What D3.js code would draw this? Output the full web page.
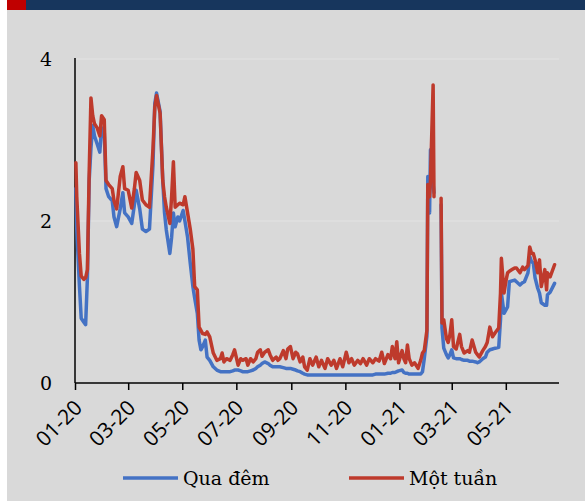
<!DOCTYPE html>
<html><head><meta charset="utf-8">
<script src="https://cdn.jsdelivr.net/npm/d3@7"></script>
<style>
html,body{margin:0;padding:0;background:#fff;}
svg{display:block;}
</style></head>
<body>
<svg id="chart" width="585" height="501"></svg>
<script>
const dates = [
"2020-01-02","2020-01-03","2020-01-06","2020-01-08","2020-01-11","2020-01-13","2020-01-15","2020-01-17","2020-01-19","2020-01-21",
"2020-01-23","2020-01-26","2020-01-29","2020-01-31","2020-02-03","2020-02-05","2020-02-08","2020-02-12","2020-02-14","2020-02-17",
"2020-02-21","2020-02-24","2020-02-26","2020-03-01","2020-03-05","2020-03-08","2020-03-10","2020-03-14","2020-03-17","2020-03-21",
"2020-03-25","2020-03-29","2020-03-31","2020-04-02","2020-04-06","2020-04-09","2020-04-11","2020-04-13","2020-04-17","2020-04-19",
"2020-04-21","2020-04-23","2020-04-26","2020-04-28","2020-05-02","2020-05-04","2020-05-07","2020-05-10","2020-05-13","2020-05-15",
"2020-05-18","2020-05-20","2020-05-22","2020-05-24","2020-05-27","2020-05-29","2020-06-01","2020-06-05","2020-06-09","2020-06-13",
"2020-06-15","2020-06-17","2020-06-20","2020-06-24","2020-06-27","2020-06-29","2020-07-03","2020-07-06","2020-07-08","2020-07-12",
"2020-07-14","2020-07-17","2020-07-20","2020-07-23","2020-07-25","2020-07-28","2020-07-30","2020-08-02","2020-08-06","2020-08-08",
"2020-08-11","2020-08-15","2020-08-17","2020-08-19","2020-08-23","2020-08-26","2020-08-28","2020-08-31","2020-09-03","2020-09-06",
"2020-09-08","2020-09-11","2020-09-14","2020-09-16","2020-09-19","2020-09-22","2020-09-25","2020-09-29","2020-10-02","2020-10-05",
"2020-10-09","2020-10-12","2020-10-16","2020-10-19","2020-10-22","2020-10-26","2020-10-29","2020-11-02","2020-11-05","2020-11-08",
"2020-11-11","2020-11-15","2020-11-18","2020-11-21","2020-11-25","2020-11-28","2020-12-02","2020-12-05","2020-12-09","2020-12-12",
"2020-12-15","2020-12-19","2020-12-22","2020-12-24","2020-12-27","2020-12-29","2020-12-31","2021-01-04","2021-01-06","2021-01-08",
"2021-01-10","2021-01-12","2021-01-15","2021-01-18","2021-01-22","2021-01-25","2021-01-27","2021-01-29","2021-02-01","2021-02-02",
"2021-02-03","2021-02-04","2021-02-05","2021-02-08","2021-02-09","2021-02-12","2021-02-17","2021-02-18","2021-02-20","2021-02-23",
"2021-02-25","2021-02-27","2021-03-01","2021-03-03","2021-03-06","2021-03-10","2021-03-12","2021-03-15","2021-03-19","2021-03-21",
"2021-03-24","2021-03-28","2021-03-30","2021-04-01","2021-04-05","2021-04-08","2021-04-10","2021-04-13","2021-04-16","2021-04-19",
"2021-04-23","2021-04-25","2021-04-26","2021-04-29","2021-05-01","2021-05-03","2021-05-05","2021-05-08","2021-05-11","2021-05-13",
"2021-05-17","2021-05-20","2021-05-22","2021-05-26","2021-05-28","2021-05-30","2021-06-01","2021-06-03","2021-06-06","2021-06-08",
"2021-06-10","2021-06-14","2021-06-16","2021-06-17","2021-06-20","2021-06-25"
];
const overnight = [
2.40,1.90,1.20,0.80,0.75,0.72,1.30,2.50,2.90,3.18,
3.05,2.95,2.85,3.15,3.10,2.40,2.30,2.25,2.05,1.93,
2.15,2.35,2.10,2.05,1.97,2.20,2.38,2.15,1.90,1.87,
1.90,2.70,3.45,3.58,3.35,2.50,2.10,1.89,1.60,1.80,
2.10,1.93,2.05,2.00,2.13,2.00,1.80,1.48,1.19,1.05,
0.86,0.53,0.41,0.45,0.53,0.32,0.28,0.20,0.16,0.14,
0.14,0.14,0.14,0.14,0.15,0.16,0.16,0.15,0.14,0.14,
0.14,0.15,0.16,0.18,0.20,0.22,0.24,0.26,0.24,0.22,
0.20,0.20,0.20,0.20,0.19,0.18,0.18,0.18,0.17,0.16,
0.15,0.14,0.12,0.11,0.10,0.10,0.10,0.10,0.10,0.10,
0.10,0.10,0.10,0.10,0.10,0.10,0.10,0.10,0.10,0.10,
0.10,0.10,0.10,0.10,0.10,0.10,0.10,0.11,0.11,0.11,
0.11,0.12,0.12,0.13,0.13,0.14,0.15,0.16,0.13,0.12,
0.12,0.11,0.11,0.11,0.11,0.11,0.14,0.30,0.58,2.55,
2.45,2.10,2.88,2.45,2.35,null,2.20,0.68,0.43,0.35,
0.31,0.35,0.41,0.31,0.30,0.30,0.29,0.28,0.28,0.27,
0.27,0.26,0.25,0.26,0.30,0.32,0.38,0.41,0.42,0.43,
0.44,0.78,1.11,0.86,0.90,0.94,1.25,1.26,1.27,1.25,
1.21,1.24,1.25,1.36,1.56,1.50,1.48,1.30,1.17,1.11,
0.99,0.96,0.96,1.09,1.12,1.23
];
const oneWeek = [
2.72,2.30,1.60,1.32,1.28,1.30,1.40,2.60,3.52,3.30,
3.20,3.15,3.05,3.30,3.25,2.50,2.45,2.40,2.25,2.15,
2.55,2.67,2.40,2.38,2.16,2.40,2.60,2.50,2.26,2.20,
2.17,2.90,3.40,3.55,3.33,2.50,2.30,2.17,1.97,2.30,
2.73,2.17,2.20,2.22,2.20,2.30,2.10,1.90,1.65,1.19,
1.15,0.69,0.65,0.61,0.60,0.63,0.57,0.37,0.28,0.30,
0.37,0.26,0.30,0.28,0.35,0.41,0.22,0.30,0.28,0.30,
0.22,0.30,0.26,0.30,0.38,0.41,0.33,0.38,0.41,0.35,
0.28,0.32,0.28,0.30,0.40,0.30,0.42,0.45,0.30,0.38,
0.36,0.26,0.32,0.20,0.16,0.30,0.22,0.32,0.20,0.28,
0.18,0.30,0.22,0.28,0.18,0.30,0.20,0.38,0.25,0.30,
0.22,0.28,0.24,0.30,0.22,0.30,0.25,0.30,0.27,0.38,
0.24,0.35,0.30,0.45,0.30,0.51,0.25,0.40,0.30,0.25,
0.47,0.30,0.22,0.25,0.18,0.28,0.37,0.40,0.65,2.45,
2.35,2.30,2.50,3.68,2.30,null,2.28,0.74,0.78,0.55,
0.50,0.60,0.78,0.45,0.42,0.60,0.45,0.37,0.40,0.38,
0.53,0.38,0.35,0.32,0.40,0.45,0.50,0.69,0.57,0.62,
0.68,1.11,1.54,1.11,1.25,1.36,1.38,1.40,1.42,1.42,
1.36,1.43,1.40,1.45,1.68,1.60,1.60,1.52,1.36,1.52,
1.19,1.40,1.15,1.36,1.31,1.46
];
const yTicks = [0, 2, 4];
const xTickDates = ["2020-01-01","2020-03-01","2020-05-01","2020-07-01","2020-09-01","2020-11-01","2021-01-01","2021-03-01","2021-05-01"];
const seriesNames = ["Qua đêm", "Một tuần"];
const seriesColors = ["#4472c4", "#be3a2c"];

const parse = d3.utcParse("%Y-%m-%d");
const svg = d3.select("#chart");

// background
svg.append("rect").attr("x",7).attr("y",0).attr("width",578).attr("height",501).attr("fill","#d9d9d9");
svg.append("rect").attr("x",7).attr("y",0).attr("width",578).attr("height",10).attr("fill","#17365d");
svg.append("rect").attr("x",7).attr("y",0).attr("width",19).attr("height",10).attr("fill","#c00000");

const x = d3.scaleUtc().domain([parse("2020-01-01"), parse("2021-06-30")]).range([75, 559]);
const y = d3.scaleLinear().domain([0, 4]).range([383, 59]);

// gridlines
svg.append("g").selectAll("line").data(yTicks.filter(t=>t>0)).join("line")
  .attr("x1",75).attr("x2",559).attr("y1",d=>y(d)).attr("y2",d=>y(d))
  .attr("stroke","#e3e3e3").attr("stroke-width",1);

// y labels
svg.append("g").selectAll("text").data(yTicks).join("text")
  .attr("x",52).attr("y",d=>y(d)).attr("dy","0.35em")
  .attr("text-anchor","end")
  .style("font-family","'DejaVu Serif', serif").style("font-size","19px").attr("fill","#000")
  .text(d=>d);

// y axis line
svg.append("line").attr("x1",75).attr("x2",75).attr("y1",58).attr("y2",383).attr("stroke","#000").attr("stroke-width",1.5);

// x axis
const xAxis = d3.axisBottom(x).tickValues(xTickDates.map(parse)).tickSize(7).tickFormat(d3.utcFormat("%m-%y"));
const gx = svg.append("g").attr("transform","translate(0,383)").call(xAxis);
gx.select(".domain").attr("stroke","#000").attr("stroke-width",1.5).attr("d","M75,0H559");
gx.selectAll(".tick line").attr("stroke","#000").attr("stroke-width",1.5);
gx.selectAll(".tick text")
  .attr("y",0).attr("dy",0)
  .attr("text-anchor","end")
  .attr("transform","translate(8,26) rotate(-45)")
  .style("font-family","'Open Sans', sans-serif").style("font-size","21px").attr("fill","#000");

// lines
const data = dates.map((d,i)=>({date:parse(d), b:overnight[i], r:oneWeek[i]}));
const line = key => d3.line().defined(d=>d[key]!==null).x(d=>x(d.date)).y(d=>y(d[key]));
svg.append("path").datum(data).attr("d",line("b")).attr("fill","none")
  .attr("stroke",seriesColors[0]).attr("stroke-width",3.5).attr("stroke-linejoin","round").attr("stroke-linecap","round");
svg.append("path").datum(data).attr("d",line("r")).attr("fill","none")
  .attr("stroke",seriesColors[1]).attr("stroke-width",3.5).attr("stroke-linejoin","round").attr("stroke-linecap","round");

// legend
const legendX = [123, 349];
const lg = svg.append("g").selectAll("g").data(seriesNames).join("g")
  .attr("transform",(d,i)=>`translate(${legendX[i]},478)`);
lg.append("line").attr("x1",0).attr("x2",55).attr("y1",0).attr("y2",0)
  .attr("stroke",(d,i)=>seriesColors[i]).attr("stroke-width",3.5);
lg.append("text").attr("x",60).attr("y",0).attr("dy","0.35em")
  .style("font-family","'DejaVu Serif', serif").style("font-size","19px").attr("fill","#000")
  .text(d=>d);
</script>
</body></html>
